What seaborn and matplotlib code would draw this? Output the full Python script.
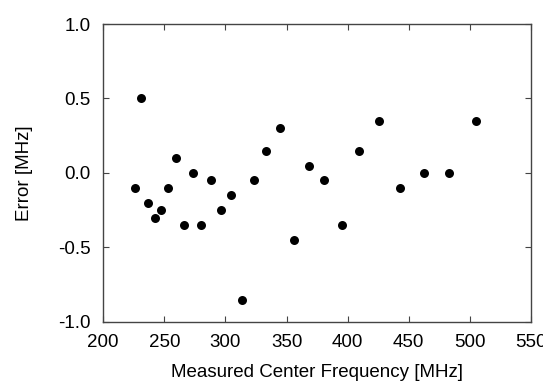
import numpy as np
import pandas as pd
import matplotlib
matplotlib.use('Agg')
import matplotlib.pyplot as plt
import seaborn as sns
from matplotlib.ticker import FormatStrFormatter

sns.set_style('ticks')
plt.rcParams['font.family'] = ['Liberation Sans', 'DejaVu Sans']
plt.rcParams['axes.unicode_minus'] = False
plt.rcParams['text.color'] = 'black'
plt.rcParams['axes.labelcolor'] = 'black'
plt.rcParams['xtick.labelcolor'] = 'black'
plt.rcParams['ytick.labelcolor'] = 'black'

# measured center frequency [MHz] and error [MHz]
freq = [226, 231, 236.5, 242, 247.5, 253, 259.5, 266, 273.5, 280, 288, 296, 304.5,
        313.5, 323, 333, 344.5, 356, 368.5, 381, 395, 409.5, 425.5, 443, 462.5, 482.5, 505]
err = [-0.10, 0.50, -0.20, -0.30, -0.25, -0.10, 0.10, -0.35, 0.00, -0.35, -0.05, -0.25, -0.15,
       -0.85, -0.05, 0.15, 0.30, -0.45, 0.05, -0.05, -0.35, 0.15, 0.35, -0.10, 0.00, 0.00, 0.35]

df = pd.DataFrame({'freq': freq, 'err': err})

fig = plt.figure(figsize=(5.43, 3.81), dpi=100)
ax = fig.add_axes([0.19, 0.155, 0.788, 0.782])

sns.scatterplot(data=df, x='freq', y='err', color='black', s=42, edgecolor='black',
                linewidth=0, ax=ax)

ax.set_xlim(200, 550)
ax.set_ylim(-1, 1)
ax.set_xticks(np.arange(200, 551, 50))
ax.set_yticks(np.arange(-1, 1.01, 0.5))
ax.yaxis.set_major_formatter(FormatStrFormatter('%.1f'))
ax.tick_params(direction='in', top=True, right=True, length=4, width=0.8,
               color='#444444', labelsize=13.5, pad=9)
for sp in ax.spines.values():
    sp.set_color('#444444')
    sp.set_linewidth(1.0)

ax.set_xlabel('Measured Center Frequency [MHz]', fontsize=13.5, labelpad=9)
ax.set_ylabel('Error [MHz]', fontsize=13.5, labelpad=18)

fig.savefig('out.png', dpi=100)
